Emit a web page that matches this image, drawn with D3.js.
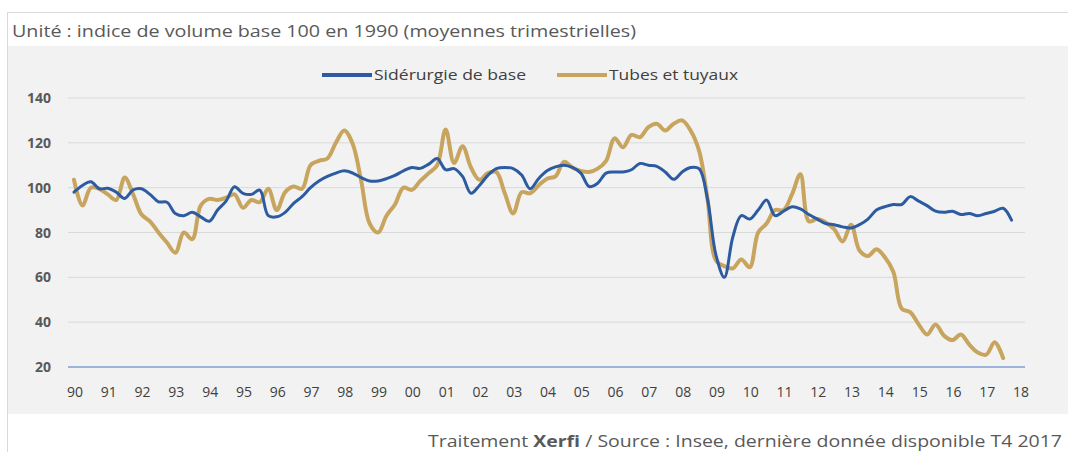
<!DOCTYPE html>
<html>
<head>
<meta charset="utf-8">
<script src="https://cdn.jsdelivr.net/npm/d3@7"></script>
<style>
  body { margin: 0; background: #fff; }
  svg { display: block; font-family: "Liberation Sans Narrow", "Open Sans", sans-serif; }
</style>
</head>
<body>
<svg id="canvas" width="1068" height="452"></svg>
<script>
// quarterly index, base 100 in 1990, from Q1 1990
const startYear = 1990;
const siderurgie = [
  98, 101, 102.6, 99.5, 99.7, 98, 95.2, 99, 99.5, 97, 93.7, 93.5, 88.5, 87.5, 89, 87,
  85, 90, 94, 100.4, 97.5, 97, 98.9, 87.5, 87, 89, 93, 96, 100, 103, 105, 106.5,
  107.5, 106.5, 104.5, 103, 103, 104, 105.5, 107.5, 109, 108.6, 110.5, 113, 108, 108.5, 105, 97.5,
  101, 105.5, 108.5, 109, 108.5, 105.6, 99.5, 104, 107.5, 109.3, 110, 109, 106.5, 100.5, 102, 106.5,
  107, 107, 108, 110.8, 110, 109.5, 107, 103.7, 107, 109, 108.5, 95, 70, 60, 78, 87.5,
  86, 90, 94.5, 87.5, 89.5, 91.5, 90.5, 88, 86, 84, 83.5, 82.5, 82, 83.5, 86, 90,
  91.5, 92.5, 92.5, 96, 94, 92, 89.5, 89, 89.5, 88, 88.5, 87.5, 88.5, 89.5, 90.8, 85.5
];
const tubes = [
  103.5, 92, 100, 99.5, 97, 94.5, 104.5, 97, 88, 85, 80, 75.5, 71, 80, 77, 92,
  95, 94.5, 95.5, 97, 91, 94.5, 93.5, 99.5, 90, 98, 100.5, 99.5, 110, 112, 113, 120,
  125.5, 119.5, 103, 84, 80, 87.5, 92.5, 100, 99, 103, 106.5, 110, 126, 111, 118.5, 109,
  103.5, 106.5, 107, 97.5, 88.5, 98, 97.5, 101, 104, 105, 111.5, 109, 107.5, 107, 108.5, 112,
  122, 118, 123.5, 122.5, 127, 128.5, 125.5, 128.5, 130, 125.5, 116.5, 95, 67.5, 65, 64, 68,
  64.5, 80, 84, 90, 90, 97, 106, 85, 86, 84.5, 81.5, 76, 83.5, 72, 69.5, 72.5,
  69, 62.5, 46, 44.5, 39, 34.5, 39, 34, 32, 34.5, 30, 26.5, 25.5, 31, 24
];
const seriesNames = ['Sidérurgie de base', 'Tubes et tuyaux'];
const seriesColors = ['#2c5ba1', '#c8a55f'];
const yTicks = [20, 40, 60, 80, 100, 120, 140];
const xYears = d3.range(1990, 2019);

const svg = d3.select('#canvas');

// frame and panel
svg.append('rect').attr('x', 7.5).attr('y', 12.5).attr('width', 1070).attr('height', 450)
  .attr('fill', '#fff').attr('stroke', '#d9d9d9');
svg.append('rect').attr('x', 8).attr('y', 46).attr('width', 1060).attr('height', 368)
  .attr('fill', '#f2f2f2');

svg.append('text').attr('x', 12).attr('y', 37)
  .attr('font-size', 16).attr('fill', '#595959')
  .attr('textLength', 624).attr('lengthAdjust', 'spacingAndGlyphs')
  .text('Unité : indice de volume base 100 en 1990 (moyennes trimestrielles)');

const x = d3.scaleLinear().domain([1990, 2018]).range([74, 1020]);
const y = d3.scaleLinear().domain([20, 140]).range([367, 98]);

// grid
svg.append('g').selectAll('line')
  .data(yTicks.filter(d => d > 20))
  .enter().append('line')
  .attr('x1', 68).attr('x2', 1025)
  .attr('y1', d => y(d)).attr('y2', d => y(d))
  .attr('stroke', '#d9d9d9').attr('stroke-width', 1);

// y labels
svg.append('g').selectAll('text')
  .data(yTicks)
  .enter().append('text')
  .attr('x', 51).attr('y', d => y(d) + 5)
  .attr('text-anchor', 'end')
  .attr('font-size', 14).attr('font-weight', 'bold').attr('fill', '#595959')
  .text(d => d);

// x labels
svg.append('g').selectAll('text')
  .data(xYears)
  .enter().append('text')
  .attr('x', d => x(d) + 1).attr('y', 397)
  .attr('text-anchor', 'middle')
  .attr('font-size', 14).attr('fill', '#404040')
  .text(d => String(d % 100).padStart(2, '0'));

// baseline
svg.append('line')
  .attr('x1', 68).attr('x2', 1025)
  .attr('y1', y(20)).attr('y2', y(20))
  .attr('stroke', '#7f9fd0').attr('stroke-width', 1.5);

const line = d3.line()
  .x((d, i) => x(startYear + i / 4))
  .y(d => y(d))
  .curve(d3.curveCatmullRom.alpha(0.5));

svg.append('path').datum(tubes)
  .attr('d', line).attr('fill', 'none')
  .attr('stroke', seriesColors[1]).attr('stroke-width', 4)
  .attr('stroke-linejoin', 'round').attr('stroke-linecap', 'round');

svg.append('path').datum(siderurgie)
  .attr('d', line).attr('fill', 'none')
  .attr('stroke', seriesColors[0]).attr('stroke-width', 3)
  .attr('stroke-linejoin', 'round').attr('stroke-linecap', 'round');

// legend
const legendItems = [
  { name: seriesNames[0], color: seriesColors[0], x0: 322, w: 152 },
  { name: seriesNames[1], color: seriesColors[1], x0: 557, w: 129 }
];
const legend = svg.append('g');
legendItems.forEach(item => {
  legend.append('line')
    .attr('x1', item.x0).attr('x2', item.x0 + 50)
    .attr('y1', 75).attr('y2', 75)
    .attr('stroke', item.color).attr('stroke-width', 4);
  legend.append('text')
    .attr('x', item.x0 + 52).attr('y', 80)
    .attr('font-size', 14).attr('fill', '#404040')
    .attr('textLength', item.w).attr('lengthAdjust', 'spacingAndGlyphs')
    .text(item.name);
});

// footer
const foot = svg.append('text')
  .attr('x', 1062).attr('y', 447)
  .attr('text-anchor', 'end')
  .attr('font-size', 16).attr('fill', '#595959')
  .attr('textLength', 634).attr('lengthAdjust', 'spacingAndGlyphs');
foot.append('tspan').text('Traitement ');
foot.append('tspan').attr('font-weight', 'bold').text('Xerfi');
foot.append('tspan').text(' / Source : Insee, dernière donnée disponible T4 2017');
</script>
</body>
</html>
